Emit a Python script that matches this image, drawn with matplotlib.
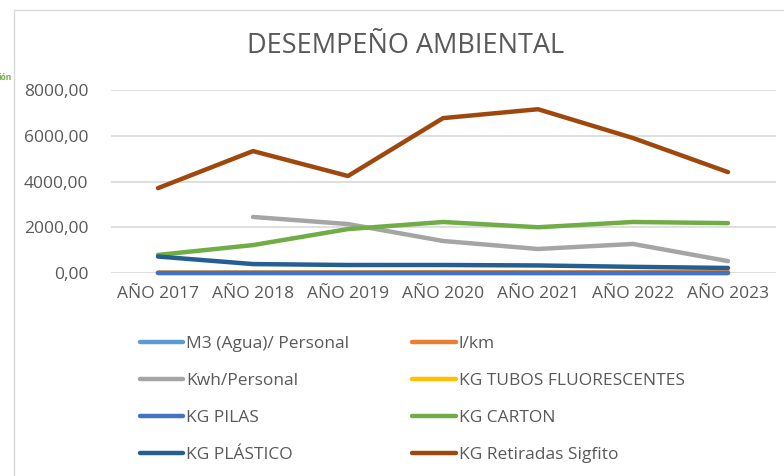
import matplotlib
matplotlib.use("Agg")
import matplotlib.pyplot as plt
from matplotlib.patches import Rectangle

plt.rcParams['font.family'] = ['Open Sans', 'DejaVu Sans']

years = ["AÑO 2017", "AÑO 2018", "AÑO 2019", "AÑO 2020", "AÑO 2021", "AÑO 2022", "AÑO 2023"]
m3_agua = [8, 7, 6, 5, 5, 5, 4]
l_km = [15, 20, 25, 40, 30, 35, 45]
kwh_personal = [None, 2450, 2140, 1400, 1050, 1270, 520]
kg_tubos = [2, 3, 1, 2, 1, 1, 1]
kg_pilas = [5, 5, 5, 5, 5, 5, 5]
kg_carton = [790, 1220, 1920, 2230, 2000, 2230, 2180]
kg_plastico = [720, 390, 350, 350, 330, 270, 220]
kg_retiradas = [3710, 5330, 4240, 6770, 7160, 5900, 4410]

series = [
    ("M3 (Agua)/ Personal", m3_agua, "#5B9BD5"),
    ("l/km", l_km, "#ED7D31"),
    ("Kwh/Personal", kwh_personal, "#A5A5A5"),
    ("KG TUBOS FLUORESCENTES", kg_tubos, "#FFC000"),
    ("KG PILAS", kg_pilas, "#4472C4"),
    ("KG CARTON", kg_carton, "#70AD47"),
    ("KG PLÁSTICO", kg_plastico, "#255E91"),
    ("KG Retiradas Sigfito", kg_retiradas, "#9E480E"),
]

W, H = 784, 476
fig = plt.figure(figsize=(W / 100, H / 100), dpi=100)
fig.patch.set_facecolor("white")

# chart frame
fig.patches.append(Rectangle((14 / W, -0.1), 1.2, 1 - 10 / H + 0.1, transform=fig.transFigure,
                             fill=False, edgecolor="#D9D9D9", linewidth=1.0))
fig.text(12 / W, 1 - 77 / H, "ión", color="#70AD47", fontsize=6, ha="right", va="center",
         fontweight="bold")

ax = fig.add_axes([110.5 / W, 1 - 273 / H, 665 / W, 183 / H])
x = list(range(len(years)))
handles = []
for name, vals, col in series:
    xs = [xi for xi, v in zip(x, vals) if v is not None]
    ys = [v for v in vals if v is not None]
    ln, = ax.plot(xs, ys, color=col, linewidth=3.2, label=name, solid_capstyle="round",
                  solid_joinstyle="round", clip_on=False, zorder=3)
    handles.append(ln)

ax.set_xlim(-0.5, len(years) - 0.5)
ax.set_ylim(0, 8000)
ax.set_yticks([0, 2000, 4000, 6000, 8000])
ax.set_yticklabels([f"{v},00" for v in [0, 2000, 4000, 6000, 8000]])
ax.set_xticks(x)
ax.set_xticklabels(years)
ax.grid(axis="y", color="#D9D9D9", linewidth=1.2, zorder=0)
for s in ax.spines.values():
    s.set_visible(False)
ax.tick_params(axis="both", length=0, colors="#595959", labelsize=12.5)
ax.tick_params(axis="y", pad=16)
ax.tick_params(axis="x", pad=9)

fig.text((248 + 563) / 2 / W, 1 - 46 / H, "DESEMPEÑO AMBIENTAL", ha="center", va="center",
         fontsize=19.5, color="#595959")

# row-major legend order: reorder for matplotlib's column-major fill
order = [0, 2, 4, 6, 1, 3, 5, 7]
hs = [handles[i] for i in order]
ls = [series[i][0] for i in order]
leg = fig.legend(hs, ls, loc="upper left", bbox_to_anchor=(124 / W, 1 - 320 / H), ncol=2,
                 frameon=False, fontsize=12.5, handlelength=2.5,
                 handletextpad=0.2, columnspacing=3.6, labelspacing=1.2)
for t in leg.get_texts():
    t.set_color("#595959")

fig.savefig("out.png", dpi=100)
